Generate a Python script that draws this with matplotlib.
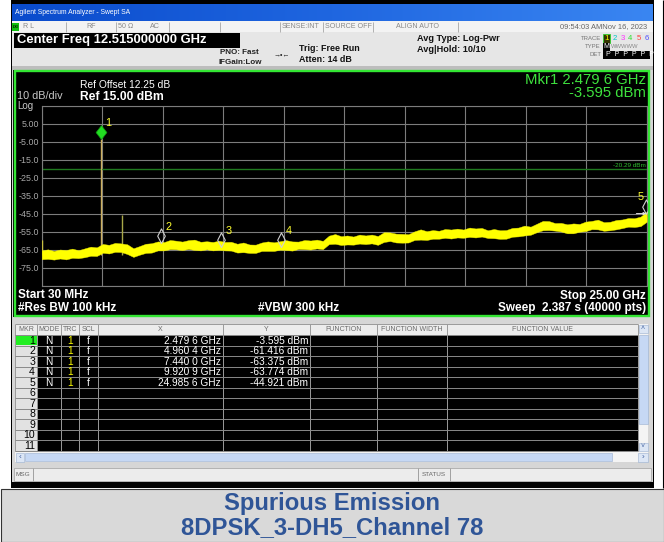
import numpy as np
import matplotlib
matplotlib.use("Agg")
import matplotlib.pyplot as plt
import matplotlib.transforms as mtransforms
from matplotlib.patches import Rectangle
from matplotlib.path import Path
from matplotlib.colors import LinearSegmentedColormap

plt.rcParams['font.family'] = ['Liberation Sans', 'DejaVu Sans']

# ---- analyzer settings / data ----
START_GHZ = 0.03
STOP_GHZ = 25.0
REF_DBM = 15.0
DB_PER_DIV = 10
REF_OFFSET_DB = 12.25
DISPLAY_LINE_DBM = -20.29
Y_TICK_LABELS = ["5.00", "-5.00", "-15.0", "-25.0", "-35.0",
                 "-45.0", "-55.0", "-65.0", "-75.0"]

# noise floor (centre of the yellow band), 100 sweep bins from start to stop
TRACE_FLOOR = [-68.0, -68.2, -67.9, -67.8, -67.6, -67.5, -67.3, -67.0, -66.6, -66.0,
               -64.6, -64.4, -64.2, -64.0, -65.5, -66.4, -65.6, -64.8, -63.8, -63.3,
               -63.0, -62.8, -62.6, -62.5, -62.6, -62.8, -62.9, -63.0, -62.8, -63.0,
               -63.2, -63.5, -63.9, -64.3, -64.5, -64.2, -63.8, -63.5, -63.2, -63.0,
               -62.9, -62.8, -62.6, -62.5, -62.4, -62.4, -62.3, -59.8, -59.7, -59.8,
               -59.9, -59.8, -59.7, -59.6, -59.5, -59.6, -58.6, -58.0, -58.5, -59.2,
               -58.6, -57.6, -57.2, -57.0, -56.8, -56.6, -56.5, -56.3, -56.2, -56.0,
               -55.8, -55.6, -55.7, -56.2, -56.7, -56.8, -56.4, -55.8, -55.2, -55.0,
               -54.4, -53.3, -52.0, -51.5, -52.3, -53.0, -53.5, -53.7, -53.0, -52.2,
               -51.5, -51.4, -51.9, -52.2, -51.5, -50.6, -50.3, -50.1, -49.8, -47.5]
# band spread above / below the floor (dB)
TRACE_UP = [2.6, 3.4, 2.2, 2.9, 2.4, 3.1, 2.0, 2.7, 3.3, 2.3,
            2.8, 2.1, 3.0, 2.5, 3.5, 2.2, 2.6, 3.1, 2.4, 2.9,
            2.2, 3.2, 2.6, 2.0, 2.9, 3.4, 2.3, 2.7, 2.1, 3.0,
            2.5, 2.9, 2.2, 3.3, 2.4, 2.0, 2.8, 3.1, 2.3, 2.7,
            3.2, 2.4, 2.1, 2.9, 2.5, 3.0, 2.2, 2.6, 3.4, 2.3,
            2.8, 2.1, 3.1, 2.5, 2.9, 2.2, 3.3, 2.6, 2.4, 3.0,
            2.2, 2.8, 3.5, 2.3, 2.7, 2.1, 3.0, 2.5, 2.9, 2.2,
            3.1, 2.4, 2.8, 2.0, 3.2, 2.6, 2.3, 2.9, 2.5, 3.4,
            2.2, 2.7, 3.0, 2.4, 2.1, 2.9, 2.6, 3.3, 2.3, 2.8,
            2.5, 3.1, 2.2, 2.7, 3.0, 2.4, 2.9, 2.6, 3.2, 3.6]
TRACE_DN = [2.3, 1.9, 2.6, 2.1, 2.8, 2.0, 2.4, 2.2, 1.8, 2.5,
            2.1, 2.7, 2.0, 2.3, 1.9, 2.6, 2.2, 2.0, 2.8, 2.1,
            2.4, 1.9, 2.2, 2.7, 2.0, 2.3, 2.5, 1.8, 2.6, 2.1,
            2.2, 2.0, 2.7, 2.1, 2.3, 2.6, 1.9, 2.2, 2.5, 2.0,
            2.3, 2.7, 2.0, 2.2, 2.5, 1.9, 2.4, 2.1, 2.0, 2.6,
            2.2, 2.4, 1.9, 2.3, 2.0, 2.7, 2.1, 2.2, 2.5, 1.9,
            2.4, 2.0, 2.2, 2.6, 2.1, 2.3, 1.9, 2.5, 2.0, 2.4,
            2.1, 2.6, 2.0, 2.3, 1.9, 2.2, 2.5, 2.0, 2.4, 2.1,
            2.3, 2.0, 2.2, 2.6, 2.1, 1.9, 2.4, 2.2, 2.0, 2.5,
            2.1, 2.3, 2.6, 2.0, 2.2, 2.4, 1.9, 2.3, 2.1, 2.0]

# narrow spikes standing out of the noise
SPIKE_GHZ = [0.03, 2.4796, 3.33]
SPIKE_TOP_DBM = [-59.5, -3.595, -45.5]

MKR_NUM = [1, 2, 3, 4, 5]
MKR_GHZ = [2.4796, 4.9604, 7.4400, 9.9209, 24.9856]
MKR_DBM = [-3.595, -61.416, -63.375, -63.774, -44.921]
TABLE_ROWS = 11

TABLE_COLS = ["MKR", "MODE", "TRC", "SCL", "X", "Y", "FUNCTION",
              "FUNCTION WIDTH", "FUNCTION VALUE"]
CAPTION = ["Spurious Emission", "8DPSK_3-DH5_Channel 78"]


def ghz_text(v):
    s = f"{v:.4f}"
    return s[:-1] + " " + s[-1] + " GHz"


fig = plt.figure(figsize=(6.64, 5.42), dpi=100)
bg = fig.add_axes([0, 0, 1, 1])
bg.axis("off")


def rect(x0, y0, x1, y1, fc, ec="none", lw=0, z=1):
    bg.add_patch(Rectangle((x0, y0), x1 - x0, y1 - y0, facecolor=fc,
                           edgecolor=ec, lw=lw, zorder=z))


def txt(x, y, s, size, color, ha="left", weight="normal", z=5, **kw):
    bg.text(x, y, s, fontsize=size, color=color, ha=ha, va="center",
            fontweight=weight, zorder=z, **kw)


def vline(x, y0, y1, color, lw=0.7, z=3):
    bg.plot([x, x], [y0, y1], color=color, lw=lw, zorder=z, solid_capstyle="butt")


def hline(y, x0, x1, color, lw=0.7, z=3):
    bg.plot([x0, x1], [y, y], color=color, lw=lw, zorder=z, solid_capstyle="butt")


# ---- window chrome ----
rect(0, 0, 664, 542, "white", z=0)
rect(11, 0, 654, 488, "black")
rect(12, 4, 653, 482, "#d6d6d6")
blue = LinearSegmentedColormap.from_list("xp", ["#0a4bcc", "#1f66e0", "#3a86f2"])
bg.imshow(np.linspace(0, 1, 256)[None, :], extent=(12, 653, 21, 4), cmap=blue,
          aspect="auto", zorder=2)
txt(15, 12.5, "Agilent Spectrum Analyzer - Swept SA", 4.9, "white", z=4)

# status row
rect(12, 21, 653, 32, "#f3f3f3", z=2)
for x in [66, 116, 169, 220, 280, 323, 373, 458]:
    vline(x, 21.5, 31.5, "#b0b0b0")
rect(12, 22.5, 19, 31, "#10c010", z=3)
txt(15.5, 26.8, "LXI", 2.6, "black", ha="center", weight="bold")
for x, s in [(23, "R L"), (86, "RF"), (118, "50 Ω"), (150, "AC"),
             (282, "SENSE:INT"), (325, "SOURCE OFF"), (396, "ALIGN AUTO")]:
    txt(x, 26.8, s, 5.1, "#888888")
txt(647, 26.8, "09:54:03 AMNov 16, 2023", 5.4, "#666666", ha="right")

# header
rect(12, 32, 653, 66, "#e6e6e6", z=2)
rect(12, 66, 653, 70, "#bdbdbd", z=2)
rect(14, 33, 240, 47.5, "black", z=3)
txt(17, 40.3, f"Center Freq {(START_GHZ + STOP_GHZ) / 2:.9f} GHz", 9.4, "white",
    weight="bold")
txt(259, 52.5, "PNO: Fast", 5.8, "#222222", ha="right", weight="bold")
txt(262, 62.5, "IFGain:Low", 5.8, "#222222", ha="right", weight="bold")
txt(282, 55, "→•←", 5.0, "#222222", ha="center")
txt(299, 48.5, "Trig: Free Run", 6.4, "#111111", weight="bold")
txt(299, 60, "Atten: 14 dB", 6.4, "#111111", weight="bold")
txt(417, 38.5, "Avg Type: Log-Pwr", 6.6, "#111111", weight="bold")
txt(417, 49.5, "Avg|Hold: 10/10", 6.6, "#111111", weight="bold")

txt(601, 38, "TRACE", 4.3, "#777777", ha="right")
txt(601, 46.5, "TYPE", 4.3, "#777777", ha="right")
txt(601, 55, "DET", 4.3, "#777777", ha="right")
rect(603, 33.5, 610, 42.5, "#333300", ec="#30d030", lw=0.6, z=3)
for i, c in enumerate(["#ffff00", "#00c8c8", "#ff30ff", "#30e030", "#ff4040", "#5050ff"]):
    txt(606.5 + 8 * i, 38, str(i + 1), 5.6, c, ha="center", z=6)
rect(603, 43, 610, 50.5, "black", z=3)
txt(606.5, 46.8, "M", 5.0, "white", ha="center")
txt(611, 46.5, "WWWWW", 4.2, "#8a8a8a")
rect(603, 51, 650, 59, "black", z=3)
txt(606.5, 55, "P  P  P  P  P  P", 5.0, "white")

# screen
rect(13, 70, 650, 317, "black", z=2)
bg.add_patch(Rectangle((14.5, 71.2), 634, 244.3, fill=False, ec="#33e633",
                       lw=1.7, zorder=6))
txt(17, 96.3, f"{DB_PER_DIV} dB/div", 7.8, "#c8c8c8")
txt(17, 105.8, "Log", 7.0, "#c8c8c8")
txt(80, 85.5, f"Ref Offset {REF_OFFSET_DB:.2f} dB", 7.4, "white")
txt(80, 97.5, f"Ref {REF_DBM:.2f} dBm", 8.7, "white", weight="bold")
txt(646, 79.5, f"Mkr1 {ghz_text(MKR_GHZ[0])}", 10.7, "#3ee23e", ha="right")
txt(646, 93, f"{MKR_DBM[0]:.3f} dBm", 10.7, "#3ee23e", ha="right")

txt(18, 295.5, f"Start {START_GHZ * 1000:.0f} MHz", 8.5, "white", weight="bold")
txt(18, 308, "#Res BW 100 kHz", 8.5, "white", weight="bold")
txt(258, 308, "#VBW 300 kHz", 8.5, "white", weight="bold")
txt(646, 295.5, f"Stop {STOP_GHZ:.2f} GHz", 8.5, "white", ha="right", weight="bold")
txt(646, 308, "Sweep  2.387 s (40000 pts)", 8.5, "white", ha="right", weight="bold")

# ---- marker table ----
cols = [15, 37, 60.5, 79, 97.5, 222.5, 310, 377, 447, 638]
top, head_h, row_h = 324, 11, 10.5
rows_top = top + head_h
rows_bot = rows_top + TABLE_ROWS * row_h
rect(15, top, 638, rows_top, "#ececec", z=2)
rect(37, rows_top, 638, rows_bot, "black", z=2)
rect(15, rows_top, 37, rows_bot, "#e2e2e2", z=2)
for i, name in enumerate(TABLE_COLS):
    txt((cols[i] + cols[i + 1]) / 2, top + 5.6, name, 5.0, "#6a6a6a", ha="center")
for x in cols:
    vline(x, top, rows_bot, "#9a9a9a")
for r in range(TABLE_ROWS + 1):
    hline(rows_top + r * row_h, 15, 638, "#8a8a8a")
hline(top, 15, 638, "#9a9a9a")
rect(15.5, rows_top + 0.5, 36.5, rows_top + row_h - 0.5, "#22ee22", z=3)
for r in range(TABLE_ROWS):
    txt(35, rows_top + (r + 0.55) * row_h, str(r + 1), 7.6, "black", ha="right")
for r, (n, f, d) in enumerate(zip(MKR_NUM, MKR_GHZ, MKR_DBM)):
    yc = rows_top + (r + 0.55) * row_h
    txt(48.7, yc, "N", 7.3, "white", ha="center")
    txt(70, yc, "1", 7.3, "#ffff00", ha="center")
    txt(88, yc, "f", 7.3, "white", ha="center")
    txt(221, yc, ghz_text(f), 7.3, "white", ha="right")
    txt(308, yc, f"{d:.3f} dBm", 7.3, "white", ha="right")
# scrollbars
rect(638, top, 648, rows_bot + 1, "#f4f4f4", z=2)
rect(638.5, top + 0.5, 647.5, top + 9, "#dce6f5", ec="#9ab0d0", lw=0.4, z=3)
rect(638.5, top + 11, 647.5, top + 100, "#c6d8f4", ec="#9ab0d0", lw=0.4, z=3)
rect(638.5, rows_bot - 8, 647.5, rows_bot + 0.5, "#dce6f5", ec="#9ab0d0", lw=0.4, z=3)
txt(643, top + 4.8, "˄", 5, "#4060a0", ha="center")
txt(643, rows_bot - 3.8, "˅", 5, "#4060a0", ha="center")
rect(15, 452, 648, 462, "#f4f4f4", z=2)
rect(15.5, 452.5, 24, 461.5, "#dce6f5", ec="#9ab0d0", lw=0.4, z=3)
rect(25, 453, 612, 461, "#c6d8f4", ec="#9ab0d0", lw=0.4, z=3)
rect(638, 452.5, 647.5, 461.5, "#dce6f5", ec="#9ab0d0", lw=0.4, z=3)
txt(19.7, 457, "‹", 6, "#4060a0", ha="center")
txt(643, 457, "›", 6, "#4060a0", ha="center")
# msg bar
rect(14, 468, 651, 481, "#ececec", ec="#a0a0a0", lw=0.5, z=2)
vline(33, 468, 481, "#a0a0a0")
vline(418, 468, 481, "#a0a0a0")
vline(450, 468, 481, "#a0a0a0")
txt(16, 474.5, "MSG", 4.6, "#666666")
txt(434, 474.5, "STATUS", 4.6, "#666666", ha="center")

# caption
rect(0.5, 488.5, 663.5, 541.5, "#d9d9d9", ec="#333333", lw=0.8, z=2)
vline(663, 0, 488, "black", lw=0.8)
txt(332, 503.5, CAPTION[0], 17.2, "#2f5597", ha="center", weight="bold")
txt(332, 527.5, CAPTION[1], 17.2, "#2f5597", ha="center", weight="bold")

bg.set_xlim(0, 664)
bg.set_ylim(542, 0)

# ---- spectrum plot ----
ax = fig.add_axes([41.7 / 664, 1 - 285.7 / 542, 605 / 664, 180 / 542])
ax.set_facecolor("black")
ax.set_xlim(START_GHZ, STOP_GHZ)
ax.set_ylim(REF_DBM - 10 * DB_PER_DIV, REF_DBM)
ax.set_xticks(np.linspace(START_GHZ, STOP_GHZ, 11))
yt = [REF_DBM - DB_PER_DIV * k for k in range(11)]
ax.set_yticks(yt)
ax.set_yticklabels([""] + Y_TICK_LABELS + [""])
ax.set_xticklabels([])
ax.tick_params(length=0)
ax.tick_params(axis="y", pad=2, labelsize=6.4, labelcolor="#a8a8a8")
ax.grid(color="#7c7c7c", lw=0.8)
for sp in ax.spines.values():
    sp.set_color("#7c7c7c")
    sp.set_linewidth(0.8)
ax.set_axisbelow(True)

ax.axhline(DISPLAY_LINE_DBM, color="#1f7a1f", lw=1.0, zorder=2)
blend = mtransforms.blended_transform_factory(ax.transAxes, ax.transData)
ax.text(0.998, DISPLAY_LINE_DBM + 0.8, f"{DISPLAY_LINE_DBM:.2f} dBm", transform=blend,
        ha="right", va="bottom", fontsize=4.6, color="#2fbf2f")

freq = np.linspace(START_GHZ, STOP_GHZ, len(TRACE_FLOOR))
floor = np.array(TRACE_FLOOR)
ax.vlines(SPIKE_GHZ, -68, SPIKE_TOP_DBM, colors=["#c8c040", "#cdb060", "#a8a848"],
          lw=1.0, zorder=3)
ax.fill_between(freq, floor - np.array(TRACE_DN), floor + np.array(TRACE_UP),
                color="#ffff00", ec="#e8e800", lw=0.3, zorder=4)

diamond_wide = Path([(0, 0), (0.39, 0.5), (0, 1), (-0.39, 0.5), (0, 0)],
                    [Path.MOVETO, Path.LINETO, Path.LINETO, Path.LINETO, Path.CLOSEPOLY])
diamond_thin = Path([(0, 0), (0.26, 0.5), (0, 1), (-0.26, 0.5), (0, 0)],
                    [Path.MOVETO, Path.LINETO, Path.LINETO, Path.LINETO, Path.CLOSEPOLY])
ax.plot(MKR_GHZ[:1], MKR_DBM[:1], ls="none", marker=diamond_wide, ms=20,
        mfc="#22dd22", mec="#119911", mew=0.5, zorder=6)
ax.plot(MKR_GHZ[1:], MKR_DBM[1:], ls="none", marker=diamond_thin, ms=21,
        mfc="none", mec="#d0d0d0", mew=0.8, zorder=6)
for n, f, d in zip(MKR_NUM, MKR_GHZ, MKR_DBM):
    if n == 5:
        off, ha = (-6, 17), "center"
    else:
        off, ha = (4.5, 16), "left"
    ax.annotate(str(n), (f, d), xytext=off, textcoords="offset pixels", ha=ha,
                va="center", fontsize=7.8, color="#ffff30", zorder=7)
ax.annotate("", (MKR_GHZ[-1], MKR_DBM[-1]), xytext=(-10, 0), textcoords="offset pixels",
            arrowprops=dict(arrowstyle="-|>", color="#e0e0e0", lw=0.7,
                            mutation_scale=4, shrinkA=0, shrinkB=0), zorder=7)

fig.savefig("out.png", dpi=100, facecolor="white")
